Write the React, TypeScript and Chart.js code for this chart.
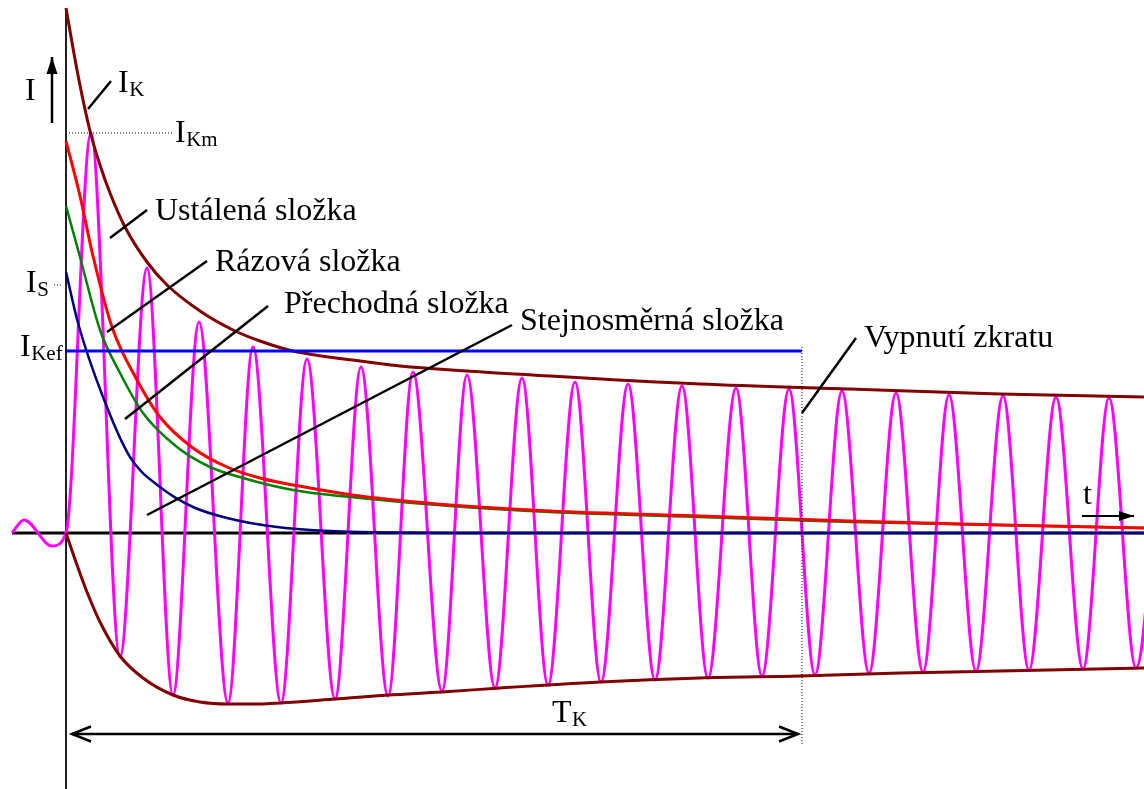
import React, { useEffect, useRef } from "react";
import { Chart, registerables } from "chart.js";

Chart.register(...registerables);

const FONT = '"Liberation Serif", "Times New Roman", serif';

// ---- data: t = time after fault inception (arbitrary units), i = current (arbitrary units) ----
// pre-fault load current
const preFaultT = [-54, -42, -14, 0];
const preFaultI = [0, 13, -13, 0];
// short-circuit current: successive peaks and troughs
const shortT = [25, 54, 81, 107, 133, 162, 187, 215, 241, 269, 295, 322, 347, 376, 401, 429, 456, 482, 509, 535, 562, 589, 616, 642, 670, 696, 723, 749, 776, 803, 830, 857, 883, 910, 937, 963, 990, 1017, 1043, 1070, 1097];
const shortI = [400, -124, 265, -162, 211, -170, 186, -170, 174, -166, 166, -163, 161, -158, 158, -155, 155, -152, 151, -149, 149, -147, 147, -145, 145, -143, 144, -142, 142, -140, 140, -139, 138, -138, 137, -137, 136, -136, 135, -135, 134];
// upper envelope (I_K)
const upperEnvT = [0, 11, 24, 34, 44, 59, 81, 101, 134, 167, 194, 227, 294, 334, 484, 634, 784, 934, 1078];
const upperEnvI = [525, 463, 402, 368, 340, 306, 271, 248, 222, 203, 192, 182, 172, 167, 157, 149, 144, 139, 136];
// lower envelope
const lowerEnvT = [0, 11, 21, 34, 54, 77, 107, 134, 162, 194, 214, 269, 322, 376, 434, 534, 634, 734, 834, 934, 1078];
const lowerEnvI = [0, -32, -59, -89, -123, -145, -162, -169, -171, -171, -170, -166, -162, -159, -155, -149, -145, -143, -140, -138, -135];
// components
const subtransT = [0, 14, 27, 46, 71, 94, 127, 161, 194, 244, 294, 384, 484, 634, 784, 934, 1078];
const subtransI = [392, 337, 277, 206, 153, 116, 85, 66, 55, 45, 37, 28, 22, 17, 12, 8, 5];
const transT = [0, 14, 34, 54, 77, 111, 144, 177, 227, 294, 384, 484, 634, 784, 934, 1078];
const transI = [327, 276, 203, 160, 120, 86, 66, 55, 43, 35, 27, 21, 16, 11, 8, 5];
const dcT = [0, 12, 37, 64, 94, 127, 161, 211, 294, 434, 1078];
const dcI = [261, 210, 136, 76, 46, 26, 15, 6, 1, 0, 0];
// levels
const ikefLevel = 182;
const ikmLevel = 400;
const isLevel = 248;
const faultClearT = 736;
const axisTopI = 523;
const axisBottomI = -256;
const tStart = -54;
const tEnd = 1078;

// ---- annotations ----
const leaderFromT = [22, 44, 41, 59, 81, 736];
const leaderFromI = [424, 295, 201, 114, 18, 120];
const leaderToT = [45, 81, 141, 202, 446, 790];
const leaderToI = [452, 323, 272, 227, 208, 195];

const LABELS = [
  { t: "I", x: -41, y: 433 },
  { t: "I", s: "K", x: 52, y: 441 },
  { t: "I", s: "Km", x: 109, y: 391 },
  { t: "Ustálená složka", x: 89, y: 313 },
  { t: "Rázová složka", x: 149, y: 262 },
  { t: "Přechodná složka", x: 218, y: 220 },
  { t: "Stejnosměrná složka", x: 454, y: 203 },
  { t: "Vypnutí zkratu", x: 798, y: 186 },
  { t: "I", s: "S", x: -40, y: 241 },
  { t: "I", s: "Kef", x: -46, y: 177 },
  { t: "t", x: 1017, y: 29 },
  { t: "T", s: "K", x: 486, y: -189 },
];

const pts = (xs: number[], ys: number[]) => xs.map((x, i) => ({ x, y: ys[i] }));

const arrowPlugin = {
  id: "arrowHeads",
  afterDatasetsDraw(chart: any) {
    const { ctx, scales } = chart;
    const px = (p: any) => ({ x: scales.x.getPixelForValue(p.x), y: scales.y.getPixelForValue(p.y) });
    chart.data.datasets.forEach((ds: any) => {
      if (!ds.arrowHeads) return;
      const d = ds.data;
      ds.arrowHeads.forEach((h: any) => {
        const tip = px(h.end ? d[d.length - 1] : d[0]);
        const from = px(h.end ? d[d.length - 2] : d[1]);
        const a = Math.atan2(tip.y - from.y, tip.x - from.x);
        const bx = tip.x - Math.cos(a) * h.len;
        const by = tip.y - Math.sin(a) * h.len;
        const nx = -Math.sin(a) * h.half;
        const ny = Math.cos(a) * h.half;
        ctx.save();
        ctx.strokeStyle = ds.borderColor;
        ctx.fillStyle = ds.borderColor;
        ctx.lineWidth = ds.borderWidth;
        ctx.lineJoin = "miter";
        ctx.beginPath();
        ctx.moveTo(bx + nx, by + ny);
        ctx.lineTo(tip.x, tip.y);
        ctx.lineTo(bx - nx, by - ny);
        if (h.filled) {
          ctx.closePath();
          ctx.fill();
        } else {
          ctx.stroke();
        }
        ctx.restore();
      });
    });
  },
};

const labelPlugin = {
  id: "labels",
  afterDraw(chart: any) {
    const { ctx, scales } = chart;
    ctx.save();
    ctx.fillStyle = "#000";
    ctx.textBaseline = "alphabetic";
    LABELS.forEach((l: any) => {
      const x = scales.x.getPixelForValue(l.x);
      const y = scales.y.getPixelForValue(l.y);
      ctx.font = `32px ${FONT}`;
      ctx.fillText(l.t, x, y);
      if (l.s) {
        const w = ctx.measureText(l.t).width;
        ctx.font = `21px ${FONT}`;
        ctx.fillText(l.s, x + w + 0.5, y + 4);
      }
    });
    ctx.restore();
  },
};

export default function App() {
  const ref = useRef<HTMLCanvasElement | null>(null);

  useEffect(() => {
    document.body.style.margin = "0";
    const canvas = ref.current;
    if (!canvas) return;

    const curve = (data: any[], color: string, width: number, order: number) => ({
      data,
      borderColor: color,
      borderWidth: width,
      cubicInterpolationMode: "monotone",
      order,
    });
    const line = (data: any[], color: string, width: number, order: number, extra: any = {}) => ({
      data,
      borderColor: color,
      borderWidth: width,
      tension: 0,
      order,
      ...extra,
    });

    const leaders = leaderFromT.map((t, i) =>
      line(
        [
          { x: t, y: leaderFromI[i] },
          { x: leaderToT[i], y: leaderToI[i] },
        ],
        "#000",
        2.5,
        5
      )
    );

    const datasets: any[] = [
      // axes
      line([{ x: tStart, y: 0 }, { x: tEnd, y: 0 }], "#000", 3, 60),
      line([{ x: 0, y: axisTopI }, { x: 0, y: axisBottomI }], "#000", 1, 60),
      // total current
      curve([...pts(preFaultT, preFaultI), ...pts(shortT, shortI)], "#ff00ff", 3, 50),
      // envelopes
      curve(pts(upperEnvT, upperEnvI), "#800000", 3, 30),
      curve(pts(lowerEnvT, lowerEnvI), "#800000", 3, 30),
      // components
      curve(pts(dcT, dcI), "#000080", 2.5, 25),
      curve(pts(transT, transI), "#008000", 2.5, 24),
      curve(pts(subtransT, subtransI), "#ff0000", 3, 22),
      line([{ x: 0, y: ikefLevel }, { x: faultClearT, y: ikefLevel }], "#0000ff", 3, 20),
      // dotted helpers
      line([{ x: 3, y: ikmLevel }, { x: 107, y: ikmLevel }], "#000", 1, 10, { borderDash: [1, 2] }),
      line([{ x: -12, y: isLevel }, { x: -4, y: isLevel }], "#000", 1, 10, { borderDash: [1, 2] }),
      line([{ x: faultClearT, y: 186 }, { x: faultClearT, y: -212 }], "#000", 1, 10, { borderDash: [1, 2] }),
      // arrows
      line([{ x: -14, y: 410 }, { x: -14, y: 476 }], "#000", 2.5, 5, {
        arrowHeads: [{ end: true, filled: true, len: 17, half: 5.5 }],
      }),
      line([{ x: 1016, y: 17 }, { x: 1068, y: 17 }], "#000", 2, 5, {
        arrowHeads: [{ end: true, filled: true, len: 15, half: 5 }],
      }),
      line([{ x: 6, y: -201 }, { x: 732, y: -201 }], "#000", 2.5, 5, {
        arrowHeads: [
          { end: false, filled: false, len: 19, half: 7.5 },
          { end: true, filled: false, len: 19, half: 7.5 },
        ],
      }),
      ...leaders,
    ];

    const chart = new Chart(canvas, {
      type: "line",
      data: { datasets },
      options: {
        animation: false,
        responsive: false,
        devicePixelRatio: 1,
        events: [],
        layout: { padding: 0 },
        elements: {
          point: { radius: 0, hoverRadius: 0 },
          line: { fill: false, borderCapStyle: "butt" },
        },
        scales: {
          x: { type: "linear", min: -66, max: 1078, display: false },
          y: { type: "linear", min: -256, max: 533, display: false },
        },
        plugins: {
          legend: { display: false },
          tooltip: { enabled: false },
        },
      } as any,
      plugins: [arrowPlugin, labelPlugin],
    });

    return () => chart.destroy();
  }, []);

  return <canvas ref={ref} width={1144} height={789} style={{ display: "block" }} />;
}
